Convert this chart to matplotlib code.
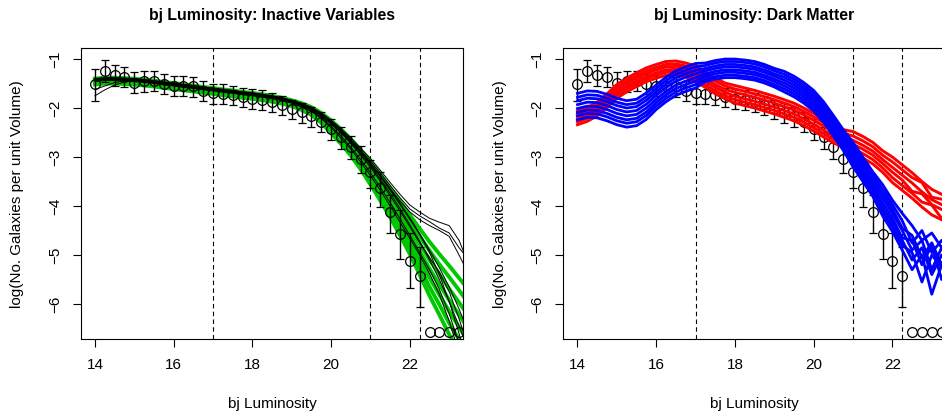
import matplotlib
matplotlib.use("Agg")
import matplotlib.pyplot as plt

plt.rcParams['font.family'] = ['Liberation Sans', 'DejaVu Sans']

# observed luminosity function (log10 counts) with asymmetric errors
mag_obs = [14.0, 14.25, 14.5, 14.75, 15.0, 15.25, 15.5, 15.75, 16.0, 16.25, 16.5, 16.75,
           17.0, 17.25, 17.5, 17.75, 18.0, 18.25, 18.5, 18.75, 19.0, 19.25, 19.5, 19.75,
           20.0, 20.25, 20.5, 20.75, 21.0, 21.25, 21.5, 21.75, 22.0, 22.25]
logn_obs = [-1.50, -1.24, -1.33, -1.36, -1.48, -1.45, -1.45, -1.50, -1.55, -1.55, -1.56, -1.65,
            -1.70, -1.71, -1.73, -1.78, -1.81, -1.83, -1.88, -1.94, -2.02, -2.09, -2.17, -2.28,
            -2.43, -2.60, -2.80, -3.03, -3.31, -3.63, -4.12, -4.57, -5.12, -5.43]
err_up = [0.29, 0.23, 0.21, 0.20, 0.21, 0.21, 0.20, 0.20, 0.20, 0.20, 0.20, 0.20,
          0.20, 0.20, 0.19, 0.19, 0.19, 0.19, 0.19, 0.19, 0.19, 0.20, 0.20, 0.20,
          0.21, 0.22, 0.22, 0.25, 0.25, 0.33, 0.34, 0.49, 0.57, 0.60]
err_lo = [0.35, 0.22, 0.22, 0.22, 0.22, 0.22, 0.21, 0.21, 0.21, 0.21, 0.21, 0.21,
          0.21, 0.21, 0.20, 0.20, 0.20, 0.20, 0.20, 0.20, 0.20, 0.21, 0.21, 0.21,
          0.22, 0.23, 0.24, 0.29, 0.33, 0.39, 0.44, 0.51, 0.56, 0.64]

# empty bins, plotted at the floor level
mag_empty = [22.5, 22.75, 23.0, 23.25, 23.5]
floor_level = -6.58

# model runs, evaluated on the same 0.25 mag bins
mag_run = [14.0, 14.25, 14.5, 14.75, 15.0, 15.25, 15.5, 15.75, 16.0, 16.25, 16.5, 16.75,
           17.0, 17.25, 17.5, 17.75, 18.0, 18.25, 18.5, 18.75, 19.0, 19.25, 19.5, 19.75,
           20.0, 20.25, 20.5, 20.75, 21.0, 21.25, 21.5, 21.75, 22.0, 22.25, 22.5, 22.75,
           23.0, 23.25, 23.5]

green_runs = [
    [-1.40, -1.38, -1.38, -1.39, -1.40, -1.42, -1.44, -1.47, -1.49, -1.52, -1.54, -1.57, -1.59,
     -1.62, -1.64, -1.67, -1.69, -1.72, -1.75, -1.79, -1.84, -1.90, -1.98, -2.10, -2.25, -2.43,
     -2.63, -2.85, -3.08, -3.35, -3.63, -3.90, -4.18, -4.46, -4.73, -4.98, -5.22, -5.47, -5.72],
    [-1.42, -1.40, -1.40, -1.41, -1.42, -1.44, -1.46, -1.49, -1.51, -1.54, -1.56, -1.59, -1.61,
     -1.64, -1.66, -1.69, -1.71, -1.74, -1.77, -1.81, -1.86, -1.92, -2.01, -2.13, -2.29, -2.48,
     -2.69, -2.92, -3.16, -3.44, -3.73, -4.02, -4.31, -4.62, -4.91, -5.19, -5.45, -5.72, -5.99],
    [-1.44, -1.42, -1.42, -1.43, -1.44, -1.46, -1.48, -1.51, -1.53, -1.56, -1.58, -1.61, -1.63,
     -1.66, -1.68, -1.71, -1.73, -1.76, -1.79, -1.83, -1.88, -1.95, -2.03, -2.17, -2.34, -2.53,
     -2.74, -2.98, -3.24, -3.53, -3.83, -4.13, -4.45, -4.77, -5.10, -5.39, -5.69, -5.97, -6.25],
    [-1.46, -1.44, -1.44, -1.45, -1.46, -1.48, -1.50, -1.53, -1.55, -1.58, -1.60, -1.63, -1.65,
     -1.68, -1.70, -1.73, -1.75, -1.78, -1.81, -1.85, -1.90, -1.97, -2.06, -2.20, -2.38, -2.58,
     -2.80, -3.05, -3.32, -3.62, -3.93, -4.25, -4.58, -4.93, -5.28, -5.60, -5.92, -6.22, -6.52],
    [-1.48, -1.46, -1.46, -1.47, -1.48, -1.50, -1.52, -1.55, -1.57, -1.60, -1.62, -1.65, -1.67,
     -1.70, -1.72, -1.75, -1.77, -1.80, -1.83, -1.87, -1.92, -1.99, -2.09, -2.23, -2.42, -2.63,
     -2.86, -3.12, -3.40, -3.71, -4.03, -4.37, -4.71, -5.09, -5.46, -5.81, -6.15, -6.47, -6.79],
    [-1.50, -1.48, -1.48, -1.49, -1.50, -1.52, -1.54, -1.57, -1.59, -1.62, -1.64, -1.67, -1.69,
     -1.72, -1.74, -1.77, -1.79, -1.82, -1.85, -1.89, -1.94, -2.02, -2.11, -2.27, -2.47, -2.68,
     -2.91, -3.18, -3.48, -3.80, -4.13, -4.48, -4.85, -5.24, -5.65, -6.01, -6.39, -6.72, -7.05],
    [-1.52, -1.50, -1.50, -1.51, -1.52, -1.54, -1.56, -1.59, -1.61, -1.64, -1.66, -1.69, -1.71,
     -1.74, -1.76, -1.79, -1.81, -1.84, -1.87, -1.91, -1.96, -2.04, -2.14, -2.30, -2.51, -2.73,
     -2.97, -3.25, -3.56, -3.89, -4.23, -4.60, -4.98, -5.40, -5.83, -6.22, -6.62, -6.97, -7.32],
]

black_runs = [
    [-1.75, -1.63, -1.53, -1.47, -1.44, -1.46, -1.48, -1.51, -1.53, -1.56, -1.58, -1.61, -1.63,
     -1.66, -1.68, -1.71, -1.73, -1.76, -1.79, -1.83, -1.88, -1.95, -2.03, -2.16, -2.32, -2.50,
     -2.70, -2.93, -3.17, -3.45, -3.74, -4.05, -4.38, -4.72, -5.10, -5.50, -5.95, -6.45, -6.95],
    [-1.62, -1.55, -1.48, -1.45, -1.42, -1.44, -1.46, -1.49, -1.51, -1.54, -1.56, -1.59, -1.61,
     -1.64, -1.66, -1.69, -1.71, -1.74, -1.77, -1.81, -1.86, -1.92, -2.00, -2.12, -2.28, -2.46,
     -2.66, -2.88, -3.12, -3.38, -3.65, -3.94, -4.24, -4.56, -4.90, -5.26, -5.65, -6.10, -6.60],
    [-1.42, -1.40, -1.40, -1.41, -1.42, -1.44, -1.46, -1.49, -1.51, -1.54, -1.56, -1.59, -1.61,
     -1.64, -1.66, -1.69, -1.71, -1.74, -1.77, -1.81, -1.86, -1.91, -1.99, -2.10, -2.25, -2.42,
     -2.61, -2.82, -3.03, -3.27, -3.52, -3.76, -3.98, -4.12, -4.25, -4.33, -4.40, -4.70, -5.20],
    [-1.40, -1.38, -1.38, -1.39, -1.40, -1.42, -1.44, -1.47, -1.49, -1.52, -1.54, -1.57, -1.59,
     -1.62, -1.64, -1.67, -1.69, -1.72, -1.75, -1.79, -1.84, -1.90, -1.98, -2.10, -2.26, -2.44,
     -2.64, -2.86, -3.08, -3.33, -3.58, -3.83, -4.06, -4.20, -4.32, -4.45, -4.55, -4.85, -5.10],
    [-1.44, -1.42, -1.42, -1.43, -1.44, -1.46, -1.48, -1.51, -1.53, -1.56, -1.58, -1.61, -1.63,
     -1.66, -1.68, -1.71, -1.73, -1.76, -1.79, -1.83, -1.88, -1.94, -2.02, -2.14, -2.30, -2.48,
     -2.68, -2.90, -3.13, -3.38, -3.64, -3.90, -4.12, -4.28, -4.40, -4.50, -4.62, -5.00, -5.40],
    [-1.40, -1.38, -1.38, -1.39, -1.40, -1.42, -1.44, -1.47, -1.49, -1.52, -1.54, -1.57, -1.59,
     -1.62, -1.64, -1.67, -1.69, -1.72, -1.75, -1.79, -1.84, -1.91, -2.00, -2.12, -2.28, -2.46,
     -2.67, -2.89, -3.13, -3.40, -3.68, -3.97, -4.27, -4.58, -4.95, -5.40, -5.95, -6.60, -7.30],
    [-1.42, -1.40, -1.40, -1.41, -1.42, -1.44, -1.46, -1.49, -1.51, -1.54, -1.56, -1.59, -1.61,
     -1.64, -1.66, -1.69, -1.71, -1.74, -1.77, -1.81, -1.86, -1.93, -2.02, -2.15, -2.32, -2.51,
     -2.72, -2.96, -3.21, -3.49, -3.79, -4.10, -4.42, -4.75, -5.05, -5.35, -5.75, -6.30, -6.90],
    [-1.44, -1.42, -1.42, -1.43, -1.44, -1.46, -1.48, -1.51, -1.53, -1.56, -1.58, -1.61, -1.63,
     -1.66, -1.68, -1.71, -1.73, -1.76, -1.79, -1.83, -1.88, -1.96, -2.05, -2.19, -2.37, -2.57,
     -2.80, -3.05, -3.32, -3.62, -3.93, -4.26, -4.60, -4.95, -5.30, -5.70, -6.20, -6.80, -7.40],
    [-1.46, -1.44, -1.44, -1.45, -1.46, -1.48, -1.50, -1.53, -1.55, -1.58, -1.60, -1.63, -1.65,
     -1.68, -1.70, -1.73, -1.75, -1.78, -1.81, -1.85, -1.90, -1.98, -2.07, -2.21, -2.40, -2.61,
     -2.84, -3.10, -3.38, -3.68, -4.00, -4.33, -4.66, -5.00, -5.38, -5.80, -6.35, -7.00, -7.60],
]

red_runs = [
    [-2.06, -1.99, -1.88, -1.71, -1.52, -1.39, -1.28, -1.18, -1.11, -1.05, -1.04, -1.08, -1.14,
     -1.26, -1.39, -1.49, -1.54, -1.59, -1.64, -1.70, -1.76, -1.83, -1.90, -2.00, -2.11, -2.23,
     -2.35, -2.44, -2.48, -2.58, -2.70, -2.87, -3.00, -3.16, -3.32, -3.50, -3.66, -3.76, -3.84],
    [-2.12, -2.05, -1.94, -1.77, -1.58, -1.45, -1.34, -1.24, -1.17, -1.11, -1.10, -1.14, -1.20,
     -1.32, -1.45, -1.55, -1.61, -1.66, -1.71, -1.77, -1.83, -1.90, -1.97, -2.07, -2.18, -2.30,
     -2.42, -2.51, -2.57, -2.67, -2.79, -2.96, -3.10, -3.26, -3.42, -3.52, -3.82, -3.86, -3.94],
    [-2.17, -2.10, -1.99, -1.82, -1.63, -1.50, -1.39, -1.29, -1.22, -1.16, -1.15, -1.19, -1.27,
     -1.39, -1.52, -1.62, -1.68, -1.73, -1.78, -1.84, -1.90, -1.97, -2.04, -2.14, -2.25, -2.37,
     -2.49, -2.58, -2.66, -2.76, -2.88, -3.05, -3.21, -3.37, -3.53, -3.71, -3.87, -3.97, -4.05],
    [-2.23, -2.16, -2.05, -1.88, -1.69, -1.56, -1.45, -1.35, -1.28, -1.22, -1.21, -1.25, -1.33,
     -1.45, -1.58, -1.68, -1.76, -1.81, -1.86, -1.92, -1.98, -2.05, -2.12, -2.22, -2.33, -2.45,
     -2.57, -2.66, -2.74, -2.84, -2.96, -3.13, -3.31, -3.47, -3.70, -3.75, -3.97, -4.07, -4.15],
    [-2.28, -2.21, -2.10, -1.93, -1.74, -1.61, -1.50, -1.40, -1.33, -1.27, -1.26, -1.30, -1.40,
     -1.52, -1.65, -1.75, -1.83, -1.88, -1.93, -1.99, -2.05, -2.12, -2.19, -2.29, -2.40, -2.52,
     -2.64, -2.73, -2.83, -2.93, -3.05, -3.22, -3.42, -3.58, -3.74, -3.92, -3.98, -4.25, -4.26],
    [-2.34, -2.27, -2.16, -1.99, -1.80, -1.67, -1.56, -1.46, -1.39, -1.33, -1.32, -1.36, -1.46,
     -1.58, -1.71, -1.81, -1.90, -1.95, -2.00, -2.06, -2.12, -2.19, -2.26, -2.36, -2.47, -2.59,
     -2.71, -2.80, -2.92, -3.02, -3.14, -3.31, -3.52, -3.68, -3.84, -4.02, -4.18, -4.28, -4.36],
]

blue_runs = [
    [-1.70, -1.65, -1.66, -1.72, -1.80, -1.85, -1.82, -1.69, -1.53, -1.37, -1.24, -1.16, -1.09,
     -1.08, -1.03, -1.00, -1.00, -1.02, -1.05, -1.11, -1.19, -1.25, -1.35, -1.48, -1.64, -1.87,
     -2.15, -2.44, -2.70, -3.00, -3.30, -3.56, -3.88, -4.15, -4.40, -4.70, -4.55, -4.85, -4.60],
    [-1.78, -1.73, -1.74, -1.80, -1.88, -1.93, -1.90, -1.77, -1.60, -1.44, -1.31, -1.23, -1.16,
     -1.13, -1.08, -1.05, -1.05, -1.07, -1.10, -1.16, -1.24, -1.31, -1.41, -1.54, -1.70, -1.93,
     -2.21, -2.50, -2.77, -3.07, -3.37, -3.65, -3.97, -4.30, -4.75, -4.50, -4.95, -4.70, -5.00],
    [-1.85, -1.80, -1.81, -1.87, -1.95, -2.00, -1.97, -1.84, -1.67, -1.51, -1.38, -1.30, -1.23,
     -1.19, -1.14, -1.11, -1.11, -1.13, -1.16, -1.22, -1.30, -1.37, -1.47, -1.60, -1.76, -1.99,
     -2.27, -2.56, -2.84, -3.14, -3.44, -3.74, -4.06, -4.45, -4.60, -5.05, -4.75, -5.20, -4.80],
    [-1.93, -1.88, -1.89, -1.95, -2.03, -2.08, -2.05, -1.92, -1.74, -1.58, -1.45, -1.37, -1.30,
     -1.24, -1.19, -1.16, -1.16, -1.18, -1.21, -1.27, -1.35, -1.43, -1.53, -1.66, -1.82, -2.05,
     -2.33, -2.62, -2.91, -3.21, -3.51, -3.83, -4.15, -4.50, -4.90, -4.70, -5.30, -4.85, -5.10],
    [-2.01, -1.96, -1.97, -2.03, -2.11, -2.16, -2.13, -2.00, -1.82, -1.66, -1.53, -1.45, -1.38,
     -1.30, -1.25, -1.22, -1.22, -1.24, -1.27, -1.33, -1.41, -1.49, -1.59, -1.72, -1.88, -2.11,
     -2.39, -2.68, -2.99, -3.29, -3.59, -3.93, -4.25, -4.65, -4.70, -5.20, -4.80, -5.50, -4.90],
    [-2.09, -2.04, -2.05, -2.11, -2.19, -2.24, -2.21, -2.08, -1.89, -1.73, -1.60, -1.52, -1.45,
     -1.35, -1.30, -1.27, -1.27, -1.29, -1.32, -1.38, -1.46, -1.55, -1.65, -1.78, -1.94, -2.17,
     -2.45, -2.74, -3.06, -3.36, -3.66, -4.02, -4.34, -4.70, -5.10, -4.85, -5.40, -5.00, -5.30],
    [-2.16, -2.11, -2.12, -2.18, -2.26, -2.31, -2.28, -2.15, -1.96, -1.80, -1.67, -1.59, -1.52,
     -1.41, -1.36, -1.33, -1.33, -1.35, -1.38, -1.44, -1.52, -1.61, -1.71, -1.84, -2.00, -2.23,
     -2.51, -2.80, -3.13, -3.43, -3.73, -4.11, -4.43, -4.80, -4.95, -5.55, -5.00, -5.25, -5.10],
    [-2.24, -2.19, -2.20, -2.26, -2.34, -2.39, -2.36, -2.23, -2.03, -1.87, -1.74, -1.66, -1.59,
     -1.46, -1.41, -1.38, -1.38, -1.40, -1.43, -1.49, -1.57, -1.67, -1.77, -1.90, -2.06, -2.29,
     -2.57, -2.86, -3.20, -3.50, -3.80, -4.20, -4.52, -4.90, -5.30, -5.00, -5.80, -5.20, -5.50],
]

cuts = [17.0, 21.0, 22.25]
xticks = [14, 16, 18, 20, 22]
yticks = [-1, -2, -3, -4, -5, -6]


def setup(ax):
    ax.set_xlim(13.64, 23.36)
    ax.set_ylim(-6.72, -0.78)
    ax.set_xticks(xticks)
    ax.set_yticks(yticks)
    ax.tick_params(axis='both', labelsize=11, length=5.5, width=0.8, pad=8, colors='black')
    ax.tick_params(axis='y', labelrotation=90)
    for lab in ax.get_yticklabels():
        lab.set_va('center')
    for s in ax.spines.values():
        s.set_linewidth(0.8)
    for c in cuts:
        ax.axvline(c, color='black', lw=0.8, ls=(0, (4, 3)), zorder=1)


def draw_obs(ax, z):
    ax.errorbar(mag_obs, logn_obs, yerr=[err_lo, err_up], fmt='o', ms=7, mfc='none',
                mec='black', mew=0.9, ecolor='black', elinewidth=1.0, capsize=3,
                capthick=1.0, zorder=z)
    ax.plot(mag_empty, [floor_level] * len(mag_empty), 'o', ms=7, mfc='none',
            mec='black', mew=0.9, zorder=z)


fig = plt.figure(figsize=(9.42, 4.18), dpi=100)
ax1 = fig.add_axes([0.0857, 0.1883, 0.4062, 0.6962])
ax2 = fig.add_axes([0.598, 0.1883, 0.4062, 0.6962])

# left: inactive variables
setup(ax1)
for run in green_runs:
    ax1.plot(mag_run, run, color='#00c800', lw=2.8, zorder=2)
for run in black_runs:
    ax1.plot(mag_run, run, color='black', lw=0.7, zorder=3)
draw_obs(ax1, 4)

# right: dark matter
setup(ax2)
draw_obs(ax2, 2)
for run in red_runs:
    ax2.plot(mag_run, run, color='#ff0000', lw=2.1, zorder=3)
for run in blue_runs:
    ax2.plot(mag_run, run, color='#0000ff', lw=2.0, zorder=4)

fig.text(0.2888, 0.962, 'bj Luminosity: Inactive Variables', ha='center', va='center',
         fontsize=11.4, fontweight='bold')
fig.text(0.8004, 0.962, 'bj Luminosity: Dark Matter', ha='center', va='center',
         fontsize=11.4, fontweight='bold')
fig.text(0.2888, 0.034, 'bj Luminosity', ha='center', va='center', fontsize=11)
fig.text(0.8004, 0.034, 'bj Luminosity', ha='center', va='center', fontsize=11)
fig.text(0.018, 0.536, 'log(No. Galaxies per unit Volume)', ha='center', va='center',
         rotation=90, fontsize=11)
fig.text(0.531, 0.536, 'log(No. Galaxies per unit Volume)', ha='center', va='center',
         rotation=90, fontsize=11)

fig.savefig('out.png', dpi=100)
